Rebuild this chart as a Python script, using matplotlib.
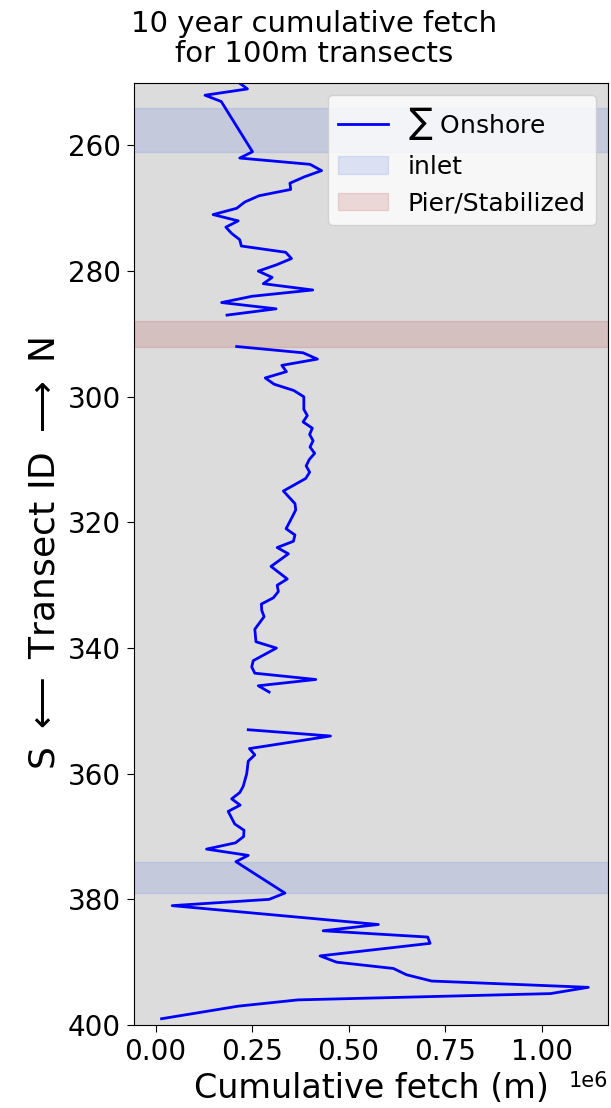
import numpy as np
import matplotlib
matplotlib.use("Agg")
import matplotlib.pyplot as plt
from matplotlib.ticker import MultipleLocator

# transect IDs (S -> N) and summed onshore fetch (m); NaN = no data
transect_ids = [250, 251, 252, 253, 261, 262, 263, 264, 265, 266, 267, 268, 269, 270,
                271, 272, 273, 274, 275, 276, 277, 278, 279, 280, 281, 282, 283, 284,
                285, 286, 287, 288,
                292, 293, 294, 295, 296, 297, 298, 299, 300, 301, 302, 303, 304, 305,
                306, 307, 308, 309, 310, 311, 312, 313, 315, 317, 318, 319, 321, 322,
                323, 324, 325, 327, 328, 329, 330, 331, 332, 333, 334, 335, 337, 339,
                340, 342, 343, 344, 345, 346, 347, 348,
                353, 354, 356, 357, 358, 360, 362, 363, 364, 365, 366, 368, 369, 370,
                371, 372, 373, 374, 379, 380, 381, 384, 385, 386, 387, 389, 390, 391,
                392, 393, 394, 395, 396, 397, 399]
onshore_fetch = [216000, 238000, 128000, 170000, 251000, 218000, 400000, 430000, 385000,
                 348000, 350000, 268000, 231000, 210000, 149000, 214000, 182000, 197000,
                 218000, 222000, 337000, 352000, 313000, 266000, 302000, 279000, 407000,
                 250000, 171000, 312000, 185000, np.nan,
                 210000, 382000, 419000, 327000, 339000, 284000, 307000, 358000, 384000,
                 384000, 384000, 393000, 382000, 406000, 399000, 408000, 400000, 412000,
                 398000, 390000, 399000, 389000, 331000, 361000, 363000, 355000, 338000,
                 361000, 357000, 315000, 344000, 299000, 320000, 341000, 315000, 318000,
                 305000, 274000, 275000, 281000, 257000, 260000, 313000, 253000, 249000,
                 257000, 415000, 266000, 294000, np.nan,
                 240000, 453000, 243000, 257000, 240000, 236000, 227000, 218000, 197000,
                 219000, 188000, 205000, 229000, 228000, 207000, 132000, 240000, 208000,
                 335000, 294000, 43000, 577000, 434000, 705000, 711000, 426000, 469000,
                 616000, 650000, 715000, 1121000, 1023000, 369000, 214000, 15500]

inlets = [(254, 261), (374, 379)]
piers = [(288, 292)]

plt.rcParams['font.size'] = 20
plt.rcParams['xtick.major.size'] = 4.8
plt.rcParams['ytick.major.size'] = 4.8
plt.rcParams['xtick.major.pad'] = 4.8
plt.rcParams['ytick.major.pad'] = 4.8

fig = plt.figure(figsize=(6.11, 11.08), dpi=100)
ax = fig.add_axes([0.2193, 0.0749, 0.7758, 0.8505])
ax.set_facecolor('#dcdcdc')

ax.plot(onshore_fetch, transect_ids, color='blue', linewidth=2.0, label=r'$\sum$ Onshore')
for i, (a, b) in enumerate(inlets):
    ax.axhspan(a, b, color='royalblue', alpha=0.15, label='inlet' if i == 0 else None)
for i, (a, b) in enumerate(piers):
    ax.axhspan(a, b, color='firebrick', alpha=0.15, label='Pier/Stabilized' if i == 0 else None)

ax.set_ylim(400, 250)
ax.set_xlim(-0.056e6, 1.172e6)
ax.xaxis.set_major_locator(MultipleLocator(0.25e6))
ax.xaxis.get_offset_text().set_fontsize(15)

fig.text(0.514, 0.991, '10 year cumulative fetch\nfor 100m transects', fontsize=21,
         ha='center', va='top', linespacing=1.1)
ax.set_xlabel('Cumulative fetch (m)', fontsize=24)
ax.set_ylabel(r'S $\longleftarrow$ Transect ID $\longrightarrow$ N', fontsize=26)
ax.legend(loc='upper right', fontsize=18)

fig.savefig('out.png', dpi=100)
